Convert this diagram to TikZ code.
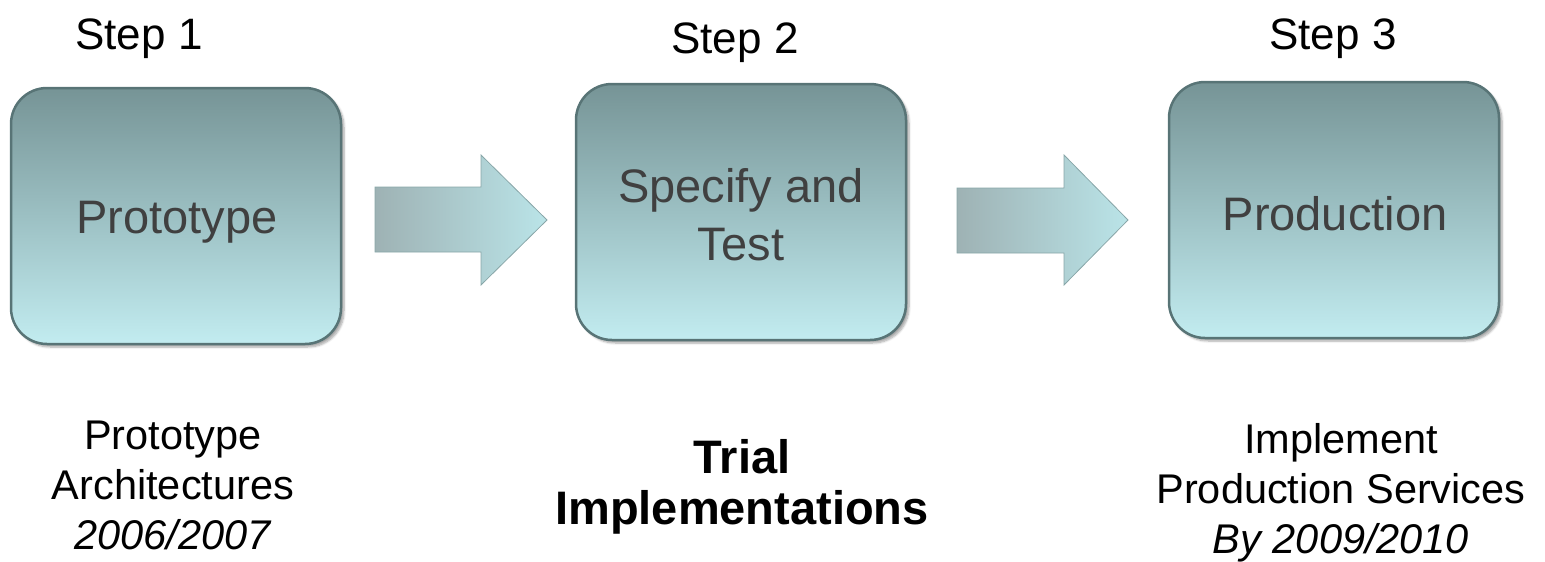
\documentclass[tikz,border=0pt]{standalone}
\usepackage{fontspec}
\setmainfont{Liberation Sans}
\usetikzlibrary{shadows.blur}

\definecolor{boxtop}{RGB}{118,148,150}
\definecolor{boxbot}{RGB}{194,236,240}
\definecolor{boxedge}{RGB}{88,116,118}
\definecolor{boxtext}{RGB}{64,64,64}
\definecolor{arrleft}{RGB}{158,178,180}
\definecolor{arrright}{RGB}{186,228,232}
\definecolor{arredge}{RGB}{136,166,168}

\begin{document}
\begin{tikzpicture}[x=1pt,y=-1pt,
  stagebox/.style={rectangle, rounded corners=36pt,
    minimum width=330pt, minimum height=256pt,
    top color=boxtop, bottom color=boxbot,
    draw=boxedge, line width=2.5pt,
    blur shadow={shadow xshift=3pt, shadow yshift=-3pt, shadow blur steps=6, shadow opacity=35}},
  boxcaption/.style={anchor=base, text=boxtext, align=center,
    font=\fontsize{47}{58}\selectfont},
  flowarrow/.style={left color=arrleft, right color=arrright,
    draw=arredge, line width=0.8pt, line join=miter},
  steplabel/.style={anchor=base, font=\fontsize{44}{52}\selectfont},
  note/.style={anchor=base, align=center, font=\fontsize{41.5}{50}\selectfont},
  boldnote/.style={anchor=base, align=center, font=\fontsize{47}{51}\selectfont\bfseries}]

\useasboundingbox (0,0) rectangle (1545,562);

% step headings
\node[steplabel] (s1) at (139,49) {Step 1};
\node[steplabel] (s2) at (735,53) {Step 2};
\node[steplabel] (s3) at (1333,49) {Step 3};

% stage boxes
\node[stagebox] (b1) at (176,216) {};
\node[stagebox] (b2) at (741,212) {};
\node[stagebox] (b3) at (1334,210) {};

% box captions (base anchor sits on the last line)
\node[boxcaption] (t1) at (177,233) {Prototype};
\node[boxcaption] (t2) at (741,260) {Specify and\\Test};
\node[boxcaption] (t3) at (1335,230) {Production};

% block arrows between the stages
\coordinate (a1) at (375,187);
\coordinate (a2) at (957,188);
\path[flowarrow] (a1) -- ++(106,0) -- ++(0,-32) -- ++(66,65) -- ++(-66,65)
  -- ++(0,-33) -- ++(-106,0) -- cycle;
\path[flowarrow] (a2) -- ++(107,0) -- ++(0,-33) -- ++(64,65) -- ++(-64,65)
  -- ++(0,-32) -- ++(-107,0) -- cycle;

% notes under the stages
\node[note] (n1) at (173,549) {Prototype\\Architectures\\\textit{2006/2007}};
\node[boldnote] (n2) at (742,524) {Trial\\Implementations};
\node[note] (n3) at (1341,553) {Implement\\Production Services\\\textit{By 2009/2010}};

\end{tikzpicture}
\end{document}
